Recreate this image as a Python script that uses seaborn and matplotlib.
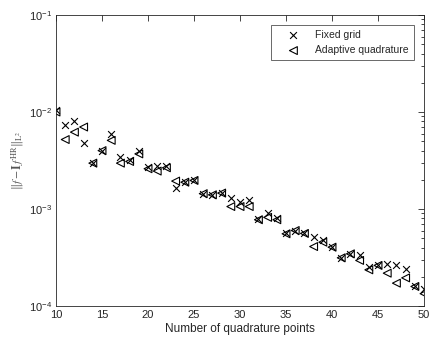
import numpy as np
import pandas as pd
import matplotlib
matplotlib.use("Agg")
import matplotlib.pyplot as plt
import seaborn as sns
from matplotlib.ticker import LogLocator, NullFormatter, FixedLocator

n_points = list(range(10, 51))
fixed_grid = [1.05e-2, 7.4e-3, 8.0e-3, 4.8e-3, 3.0e-3, 4.0e-3, 5.96e-3, 3.4e-3, 3.2e-3, 4.0e-3,
              2.7e-3, 2.8e-3, 2.75e-3, 1.66e-3, 1.9e-3, 1.97e-3, 1.44e-3, 1.41e-3, 1.47e-3, 1.30e-3,
              1.17e-3, 1.24e-3, 7.8e-4, 9.05e-4, 8.0e-4, 5.6e-4, 6.0e-4, 5.7e-4, 5.2e-4, 4.8e-4,
              4.05e-4, 3.15e-4, 3.45e-4, 3.37e-4, 2.5e-4, 2.65e-4, 2.68e-4, 2.62e-4, 2.42e-4, 1.6e-4,
              1.5e-4]
adaptive = [1.0e-2, 5.2e-3, 6.2e-3, 7.0e-3, 2.97e-3, 4.0e-3, 5.1e-3, 2.97e-3, 3.09e-3, 3.7e-3,
            2.6e-3, 2.46e-3, 2.66e-3, 1.94e-3, 1.89e-3, 1.97e-3, 1.44e-3, 1.40e-3, 1.46e-3, 1.06e-3,
            1.06e-3, 1.06e-3, 7.75e-4, 8.2e-4, 7.75e-4, 5.55e-4, 6.0e-4, 5.6e-4, 4.1e-4, 4.55e-4,
            4.04e-4, 3.14e-4, 3.45e-4, 2.95e-4, 2.36e-4, 2.62e-4, 2.18e-4, 1.72e-4, 1.95e-4, 1.59e-4,
            1.34e-4]
series_names = ["Fixed grid", "Adaptive quadrature"]
x_ticks = [10, 15, 20, 25, 30, 35, 40, 45, 50]

sns.set_style("white")
plt.rcParams['font.family'] = ['Liberation Sans', 'DejaVu Sans']
plt.rcParams['mathtext.fontset'] = 'stix'

df = pd.DataFrame({
    "n": n_points * 2,
    "err": fixed_grid + adaptive,
    "method": [series_names[0]] * len(n_points) + [series_names[1]] * len(n_points),
})

fig = plt.figure(figsize=(4.30, 3.45), dpi=100)
ax = fig.add_axes([56/430, 1 - 306/345, (424-56)/430, (306-15)/345])

tc = "#262626"
sns.scatterplot(data=df[df.method == series_names[0]], x="n", y="err", marker="x",
                color="black", s=24, linewidth=0.8, ax=ax, label=series_names[0], legend=False)
sns.scatterplot(data=df[df.method == series_names[1]], x="n", y="err", marker="<",
                facecolors="none", edgecolor="black", s=32, linewidth=0.8, ax=ax,
                label=series_names[1], legend=False)

ax.set_yscale("log")
ax.set_xlim(10, 50)
ax.set_ylim(1e-4, 1e-1)
ax.xaxis.set_major_locator(FixedLocator(x_ticks))
ax.yaxis.set_major_locator(LogLocator(base=10, numticks=10))
ax.yaxis.set_minor_locator(LogLocator(base=10, subs=np.arange(2, 10), numticks=20))
ax.yaxis.set_minor_formatter(NullFormatter())

ax.tick_params(axis="both", which="both", direction="in", top=True, right=True,
               labelsize=8, colors=tc, width=0.6)
ax.tick_params(axis="both", which="major", length=4, pad=3)
ax.tick_params(axis="y", which="minor", length=2.2)
for sp in ax.spines.values():
    sp.set_color(tc)
    sp.set_linewidth(0.6)

ax.set_xlabel("Number of quadrature points", fontsize=8.5, color=tc, labelpad=2)
ax.set_ylabel(r"$\|f - \mathbf{I}\, f^{\mathrm{HR}}\|_{\mathrm{L}^2}$", fontsize=8.5,
              color="#555555", labelpad=2)

handles, labels = ax.get_legend_handles_labels()
leg = ax.legend(handles, labels, loc="upper right", fontsize=7.5, frameon=True, fancybox=False,
                edgecolor=tc, borderpad=0.45, handletextpad=0.4, borderaxespad=1.0,
                labelspacing=0.5, handlelength=3.4)
leg.get_frame().set_linewidth(0.6)

fig.savefig("out.png", dpi=100)
